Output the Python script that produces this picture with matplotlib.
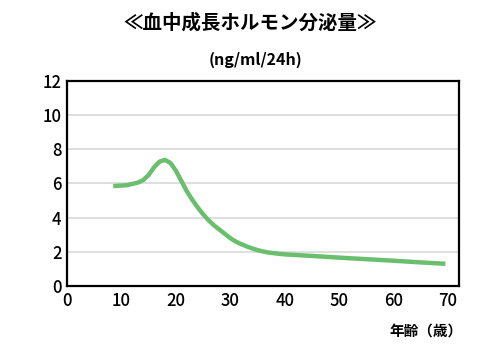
import matplotlib.pyplot as plt

plt.rcParams['font.family'] = ['Noto Sans CJK JP', 'DejaVu Sans']

# 年齢（歳）と血中成長ホルモン分泌量（ng/ml/24h）
age = [8.5, 11, 13, 14, 15, 16, 17, 18, 19, 20, 21, 22, 23, 24, 25, 26, 27, 28,
       29, 30, 31, 32, 33, 34, 35, 36, 37, 38, 40, 45, 50, 55, 60, 65, 69.5]
ghs = [5.85, 5.9, 6.05, 6.2, 6.5, 6.95, 7.28, 7.38, 7.2, 6.75, 6.15, 5.55, 5.05,
       4.6, 4.2, 3.85, 3.55, 3.3, 3.05, 2.8, 2.6, 2.45, 2.32, 2.2, 2.1, 2.02,
       1.96, 1.92, 1.85, 1.76, 1.66, 1.57, 1.48, 1.38, 1.3]

xticks = [0, 10, 20, 30, 40, 50, 60, 70]
yticks = [0, 2, 4, 6, 8, 10, 12]

fig = plt.figure(figsize=(5, 3.52), dpi=100)
ax = fig.add_axes([0.134, 0.1875, 0.784, 0.5825])

ax.plot(age, ghs, color='#6abf6e', lw=3.2, solid_capstyle='butt',
        solid_joinstyle='round', zorder=3)

ax.set_xlim(0, 72)
ax.set_ylim(0, 12)
ax.set_xticks(xticks)
ax.set_yticks(yticks)
ax.tick_params(length=0, labelsize=12, pad=4)
ax.yaxis.grid(True, color='#d9d9d9', lw=1.2)
ax.set_axisbelow(True)
for s in ax.spines.values():
    s.set_linewidth(1.6)
    s.set_color('black')
for lab in ax.get_xticklabels() + ax.get_yticklabels():
    lab.set_fontweight('medium')

fig.text(0.5, 0.935, '≪血中成長ホルモン分泌量≫', ha='center', va='center',
         fontsize=14, fontweight='bold')
fig.text(0.51, 0.83, '(ng/ml/24h)', ha='center', va='center',
         fontsize=11.5, fontweight='bold')
fig.text(0.925, 0.062, '年齢（歳）', ha='right', va='center',
         fontsize=10.5, fontweight='bold')

fig.savefig('out.png', dpi=100)
